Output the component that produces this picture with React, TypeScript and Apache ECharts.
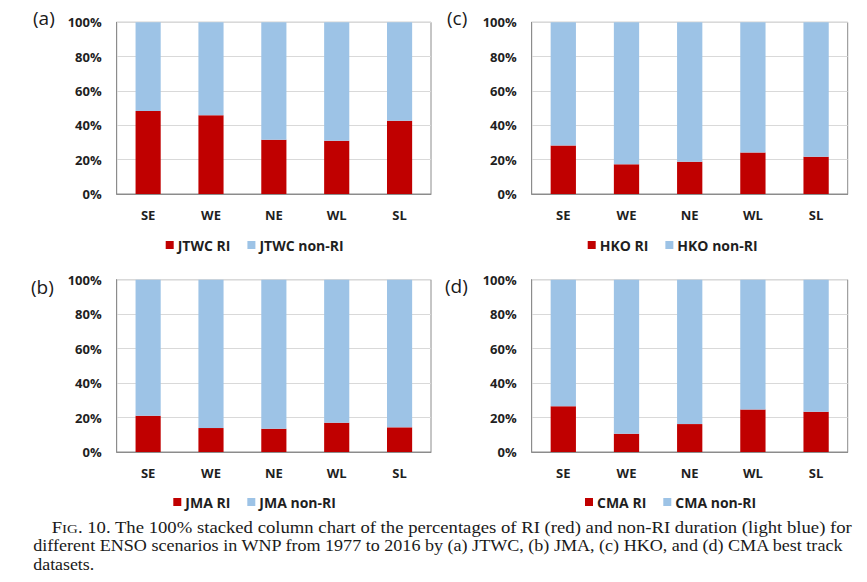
import React, { useEffect, useRef } from 'react';
import * as echarts from 'echarts';

const categories = ['SE', 'WE', 'NE', 'WL', 'SL'];
const datasetNames = ['JTWC', 'JMA', 'HKO', 'CMA'];
const panelLetters = ['(a)', '(b)', '(c)', '(d)'];

const jtwcRI = [48.3, 45.8, 31.6, 31.0, 42.7];
const jtwcNonRI = [51.7, 54.2, 68.4, 69.0, 57.3];
const jmaRI = [21.1, 13.9, 13.5, 17.0, 14.3];
const jmaNonRI = [78.9, 86.1, 86.5, 83.0, 85.7];
const hkoRI = [28.2, 17.3, 18.8, 24.1, 21.7];
const hkoNonRI = [71.8, 82.7, 81.2, 75.9, 78.3];
const cmaRI = [26.5, 10.6, 16.2, 24.6, 23.4];
const cmaNonRI = [73.5, 89.4, 83.8, 75.4, 76.6];

const riSeries = [jtwcRI, jmaRI, hkoRI, cmaRI];
const nonRISeries = [jtwcNonRI, jmaNonRI, hkoNonRI, cmaNonRI];

const captionSmallCapsHead = ['F', 'IG'];
const captionLine1Rest = '. 10. The 100% stacked column chart of the percentages of RI (red) and non-RI duration (light blue) for';
const captionLine2 = 'different ENSO scenarios in WNP from 1977 to 2016 by (a) JTWC, (b) JMA, (c) HKO, and (d) CMA best track';
const captionLine3 = 'datasets.';

const RED = '#C00000';
const BLUE = '#9DC3E6';
const FONT = 'Open Sans';
const SERIF = 'Liberation Serif';

const layout = [
  { grid: { left: 116.7, top: 22.3, width: 314.3, height: 171.7 }, legend: { left: 165.7, top: 238 }, label: { x: 33, y: 18 } },
  { grid: { left: 116.7, top: 279.7, width: 314.3, height: 172.3 }, legend: { left: 173.3, top: 495 }, label: { x: 31, y: 286.5 } },
  { grid: { left: 531.7, top: 22.3, width: 316, height: 171.7 }, legend: { left: 587.7, top: 238 }, label: { x: 447, y: 18 } },
  { grid: { left: 531.7, top: 279.7, width: 316, height: 172.3 }, legend: { left: 585, top: 495 }, label: { x: 445, y: 285.5 } },
];

const captionLayout = [
  { x: 51.7, right: 853, y: 527.8 },
  { x: 33.3, right: 845, y: 546.2 },
  { x: 33.3, right: 94.3, y: 565.3 },
];

export default function App() {
  const ref = useRef<HTMLDivElement>(null);
  useEffect(() => {
    if (!ref.current) return;
    const chart = echarts.init(ref.current, null, { renderer: 'svg' });

    const ctx = document.createElement('canvas').getContext('2d')!;
    const measure = (size: number, s: string) => {
      ctx.font = `${size}px "${SERIF}"`;
      return ctx.measureText(s).width;
    };
    const CAP = 16;
    const SC = 12.8;
    const w1 = measure(CAP, captionSmallCapsHead[0]) + measure(SC, captionSmallCapsHead[1]) + measure(CAP, captionLine1Rest);
    const w2 = measure(CAP, captionLine2);
    const w3 = measure(CAP, captionLine3);
    const widths = [w1, w2, w3];

    const grids: any[] = [];
    const xAxes: any[] = [];
    const yAxes: any[] = [];
    const series: any[] = [];
    const legends: any[] = [];
    const graphics: any[] = [];

    datasetNames.forEach((name, i) => {
      const L = layout[i];
      grids.push({ ...L.grid, show: true, borderColor: '#8c8c8c', borderWidth: 1, backgroundColor: 'transparent' });
      xAxes.push({
        type: 'category', gridIndex: i, data: categories,
        axisLine: { show: true, lineStyle: { color: '#8c8c8c', width: 1 } },
        axisTick: { show: false },
        axisLabel: { color: '#1f1f1f', fontFamily: FONT, fontWeight: 'bold', fontSize: 13, margin: 14 },
      });
      yAxes.push({
        type: 'value', gridIndex: i, min: 0, max: 100, interval: 20,
        axisLine: { show: true, lineStyle: { color: '#8c8c8c', width: 1 } },
        axisTick: { show: false },
        splitLine: { show: true, lineStyle: { color: '#d9d9d9', width: 1 } },
        axisLabel: { color: '#1f1f1f', fontFamily: FONT, fontWeight: 'bold', fontSize: 13, margin: 15, formatter: '{value}%' },
      });
      series.push({
        name: `${name} RI`, type: 'bar', stack: `s${i}`, xAxisIndex: i, yAxisIndex: i,
        data: riSeries[i], barWidth: '40%', itemStyle: { color: RED },
      });
      series.push({
        name: `${name} non-RI`, type: 'bar', stack: `s${i}`, xAxisIndex: i, yAxisIndex: i,
        data: nonRISeries[i], barWidth: '40%', itemStyle: { color: BLUE },
      });
      legends.push({
        data: [`${name} RI`, `${name} non-RI`],
        left: L.legend.left, top: L.legend.top, padding: 0,
        icon: 'rect', itemWidth: 8, itemHeight: 8, itemGap: 17,
        textStyle: { color: '#1f1f1f', fontFamily: FONT, fontWeight: 'bold', fontSize: 14, padding: [0, 0, 0, -1] },
      });
      graphics.push({
        type: 'text', x: L.label.x, y: L.label.y,
        style: { text: panelLetters[i], fontFamily: FONT, fontSize: 19, fill: '#1a1a1a', verticalAlign: 'middle', align: 'left' },
      });
    });

    captionLayout.forEach((c, i) => {
      const scale = (c.right - c.x) / widths[i];
      const text = i === 0
        ? `{a|${captionSmallCapsHead[0]}}{b|${captionSmallCapsHead[1]}}{a|${captionLine1Rest}}`
        : i === 1 ? captionLine2 : captionLine3;
      graphics.push({
        type: 'text', x: c.x, y: c.y, scaleX: scale, scaleY: 1,
        style: {
          text, fontFamily: SERIF, fontSize: CAP, fill: '#1a1a1a', verticalAlign: 'middle', align: 'left',
          rich: i === 0 ? {
            a: { fontFamily: SERIF, fontSize: CAP, fill: '#1a1a1a', verticalAlign: 'bottom' },
            b: { fontFamily: SERIF, fontSize: SC, fill: '#1a1a1a', verticalAlign: 'bottom' },
          } : undefined,
        },
      });
    });

    chart.setOption({
      animation: false,
      backgroundColor: '#ffffff',
      grid: grids,
      xAxis: xAxes,
      yAxis: yAxes,
      legend: legends,
      series,
      graphic: graphics,
    });
    return () => chart.dispose();
  }, []);
  return <div ref={ref} style={{ position: 'fixed', left: 0, top: 0, width: 867, height: 582 }} />;
}
